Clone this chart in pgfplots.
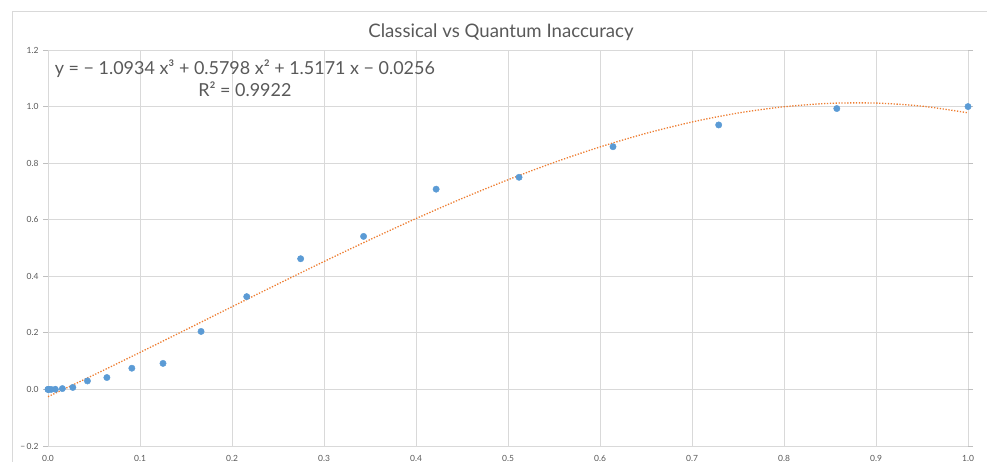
\documentclass[border=0pt]{standalone}
\usepackage{pgfplots}
\pgfplotsset{compat=1.18}
\usepackage{fontspec}
\setmainfont{Lato}
\definecolor{txtgray}{HTML}{595959}
\definecolor{gridgray}{HTML}{D9D9D9}
\definecolor{axisgray}{HTML}{BFBFBF}
\definecolor{ptblue}{HTML}{5B9BD5}
\definecolor{trendorange}{HTML}{ED7D31}

\begin{document}
\begin{tikzpicture}[x=1bp,y=1bp]
  \path[use as bounding box] (0,0) rectangle (987,462);
  % chart frame
  \draw[gridgray, line width=0.75bp] (12,-5) -- (12,451) -- (995,451);
  \node[font=\fontsize{18.7}{20}\selectfont, text=txtgray] at (501,430) {Classical vs Quantum Inaccuracy};
  \begin{axis}[
    at={(48bp,16bp)}, anchor=south west,
    scale only axis,
    width=920bp, height=396bp,
    xmin=0, xmax=1, ymin=-0.2, ymax=1.2,
    xtick={0,0.1,...,1.0},
    ytick={-0.2,0,0.2,0.4,0.6,0.8,1.0,1.2},
    xticklabels={0.0,0.1,0.2,0.3,0.4,0.5,0.6,0.7,0.8,0.9,1.0},
    yticklabels={−\,0.2,0.0,0.2,0.4,0.6,0.8,1.0,1.2},
    grid=major,
    major grid style={gridgray, line width=0.75bp},
    axis line style={draw=none},
    tick align=outside,
    major tick length=5bp,
    ytick style={axisgray, line width=0.75bp},
    xtick style={draw=none},
    tick label style={font=\fontsize{8.5}{10}\selectfont, text=txtgray},
    yticklabel style={xshift=-1bp},
    xticklabel style={yshift=-1bp},
    extra y ticks={0},
    extra y tick labels={},
    extra y tick style={grid style={axisgray, line width=1bp}, major tick length=0pt},
    clip=false,
  ]
    % trendline (cubic fit, sampled)
    \addplot[trendorange, line width=1.3bp, dash pattern=on 1.3bp off 1.6bp, smooth] coordinates {
      (0,-0.0256) (0.05,0.0516) (0.1,0.1308) (0.15,0.2113) (0.2,0.2923)
      (0.25,0.3728) (0.3,0.4522) (0.35,0.5295) (0.4,0.6040) (0.45,0.6749)
      (0.5,0.7412) (0.55,0.8023) (0.6,0.8572) (0.65,0.9052) (0.7,0.9454)
      (0.75,0.9771) (0.8,0.9993) (0.85,1.0114) (0.9,1.0123) (0.95,1.0015)
      (1.0,0.9779)
    };
    % data
    \addplot[only marks, mark=*, mark size=3.2bp, ptblue, mark options={draw=ptblue, fill=ptblue}] coordinates {
      (0,0) (0.000125,0) (0.001,0) (0.003375,0) (0.008,0.0005)
      (0.015625,0.003) (0.027,0.007) (0.042875,0.030) (0.064,0.042)
      (0.091125,0.075) (0.125,0.092) (0.166375,0.205) (0.216,0.328)
      (0.274625,0.462) (0.343,0.541) (0.421875,0.708) (0.512,0.750)
      (0.614125,0.858) (0.729,0.935) (0.857375,0.993) (1.0,1.0)
    };
    \node[font=\fontsize{18}{22}\selectfont, text=txtgray, align=center] at (axis cs:0.214,1.099)
      {y = − 1.0934 x³ + 0.5798 x² + 1.5171 x − 0.0256\\R² = 0.9922};
  \end{axis}
\end{tikzpicture}
\end{document}
